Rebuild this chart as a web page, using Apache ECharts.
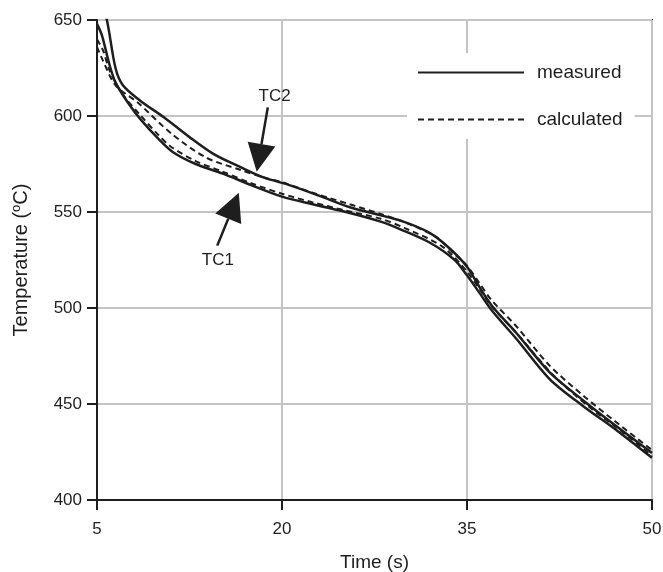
<!DOCTYPE html>
<html>
<head>
<meta charset="utf-8">
<script src="https://cdn.jsdelivr.net/npm/echarts@6/dist/echarts.min.js"></script>
<style>
  html, body { margin: 0; padding: 0; background: #fff; }
  #chart { width: 663px; height: 572px; }
</style>
</head>
<body>
<div id="chart"></div>
<script>
// time (s), temperature (C)
const tc1Measured = [
  [5, 648], [5.4, 642], [6, 627], [6.5, 617.5], [7.5, 607], [8.5, 598.5],
  [10, 588], [11.2, 581], [13, 575], [15.2, 570], [17.5, 564], [20, 558],
  [22.5, 554], [25.5, 549.5], [28, 545], [29.6, 541], [32, 534], [34, 525],
  [35, 517], [36, 508], [37.1, 498], [39, 484], [41.7, 463], [44.4, 449],
  [47.2, 436], [50, 422]
];
const tc1Calculated = [
  [5, 640], [5.5, 634], [6, 624], [7, 612], [8.5, 600.5], [10, 590],
  [11, 584], [13, 576.5], [15, 571.5], [17.5, 565], [20, 559.5],
  [22.5, 555], [25, 551], [28, 546.5], [30, 541.5], [33, 532], [35, 519],
  [37, 501], [39, 487], [42, 465], [45, 448], [47.5, 436], [50, 423]
];
const tc2Measured = [
  [5, 668], [5.8, 650], [6.5, 625], [7.1, 616], [8.5, 608], [10.5, 599],
  [12.5, 589], [14.5, 580], [16.6, 573.5], [18.5, 568], [20.6, 564],
  [23, 558.5], [25.5, 552.5], [29.6, 545.5], [32, 539], [33.6, 531],
  [35, 521.5], [36, 511], [37.1, 500.5], [39, 487], [41.7, 466.5],
  [44.4, 452], [47.2, 438], [50, 424.5]
];
const tc2Calculated = [
  [5, 636], [5.4, 630], [6.5, 616], [8.3, 607], [11, 591], [13.8, 578.5],
  [16.6, 572], [18.5, 568], [20, 565.5], [22.5, 560], [25.5, 554],
  [28, 549], [30, 544.5], [32.5, 537], [34, 528], [35, 522], [36, 513],
  [37, 504], [39, 490.5], [41.7, 470], [44.4, 454.5], [47, 441], [50, 426]
];

const xTicks = { min: 5, max: 50, step: 15 };
const yTicks = { min: 400, max: 650, step: 50 };

// arrow annotations, in data units
const arrows = [
  { label: "TC2", text: [19.4, 610], tail: [18.85, 604.5], tip: [17.95, 571] },
  { label: "TC1", text: [14.8, 525], tail: [14.75, 532.5], tip: [16.5, 560] }
];

const chart = echarts.init(document.getElementById("chart"));
const font = "'Liberation Sans', Arial, sans-serif";
const ink = "#1e1e1e";

function lineSeries(name, data, dashed) {
  return {
    name: name,
    type: "line",
    data: data,
    smooth: 0.3,
    symbol: "none",
    clip: true,
    itemStyle: { color: ink },
    lineStyle: {
      color: ink,
      width: dashed ? 2 : 2.5,
      type: dashed ? [6, 4] : "solid"
    },
    z: dashed ? 3 : 2
  };
}

const option = {
  backgroundColor: "#fff",
  animation: false,
  textStyle: { fontFamily: font },
  grid: {
    left: 97,
    top: 20,
    right: 11,
    bottom: 72,
    outerBoundsMode: "none",
    show: true,
    borderColor: ink,
    borderWidth: 2
  },
  legend: {
    data: ["measured", "calculated"],
    orient: "vertical",
    left: 407,
    top: 53,
    itemWidth: 106,
    itemHeight: 14,
    itemGap: 28,
    backgroundColor: "#fff",
    padding: [10, 12, 10, 10],
    itemStyle: { opacity: 0 },
    textStyle: { fontSize: 19, color: ink, fontFamily: font, padding: [0, 0, 0, 8] }
  },
  xAxis: {
    type: "value",
    min: xTicks.min,
    max: xTicks.max,
    interval: xTicks.step,
    name: "Time (s)",
    nameLocation: "middle",
    nameGap: 53,
    nameTextStyle: { fontSize: 19, color: ink, fontFamily: font },
    axisLine: { lineStyle: { color: ink, width: 2 } },
    axisTick: { show: true, length: 10, lineStyle: { color: ink, width: 2 } },
    axisLabel: { fontSize: 17, color: ink, margin: 21 },
    splitLine: { show: true, lineStyle: { color: "#c4c4c4", width: 2 } }
  },
  yAxis: {
    type: "value",
    min: yTicks.min,
    max: yTicks.max,
    interval: yTicks.step,
    name: "Temperature ({sup|o}C)",
    nameLocation: "middle",
    nameGap: 64,
    nameTextStyle: {
      fontSize: 20,
      color: ink,
      fontFamily: font,
      rich: {
        sup: { fontSize: 13, color: ink, fontFamily: font, padding: [0, 0, 10, 0] }
      }
    },
    axisLine: { show: true, lineStyle: { color: ink, width: 2 } },
    axisTick: { show: true, length: 10, lineStyle: { color: ink, width: 2 } },
    axisLabel: { fontSize: 17, color: ink, margin: 15 },
    splitLine: { show: true, lineStyle: { color: "#c4c4c4", width: 2 } }
  },
  series: [
    lineSeries("measured", tc1Measured, false),
    lineSeries("measured", tc2Measured, false),
    lineSeries("calculated", tc1Calculated, true),
    lineSeries("calculated", tc2Calculated, true)
  ]
};

chart.setOption(option);

// arrows are placed after the axes exist so they follow the scales
function arrowGraphics() {
  const els = [];
  arrows.forEach(function (a) {
    const t = chart.convertToPixel({ gridIndex: 0 }, a.text);
    const p0 = chart.convertToPixel({ gridIndex: 0 }, a.tail);
    const p1 = chart.convertToPixel({ gridIndex: 0 }, a.tip);
    const dx = p1[0] - p0[0], dy = p1[1] - p0[1];
    const len = Math.sqrt(dx * dx + dy * dy);
    const ux = dx / len, uy = dy / len;
    const headLen = 28, halfW = 14;
    const bx = p1[0] - ux * headLen, by = p1[1] - uy * headLen;
    els.push({
      type: "line",
      shape: { x1: p0[0], y1: p0[1], x2: bx, y2: by },
      style: { stroke: ink, lineWidth: 2.5 },
      z: 10
    });
    els.push({
      type: "polygon",
      shape: {
        points: [
          [p1[0], p1[1]],
          [bx - uy * halfW, by + ux * halfW],
          [bx + uy * halfW, by - ux * halfW]
        ]
      },
      style: { fill: ink },
      z: 10
    });
    els.push({
      type: "text",
      x: t[0],
      y: t[1],
      style: {
        text: a.label,
        fontSize: 17,
        fontFamily: font,
        fill: ink,
        align: "center",
        verticalAlign: "middle"
      },
      z: 10
    });
  });
  return els;
}

chart.setOption({ graphic: arrowGraphics() });
</script>
</body>
</html>
